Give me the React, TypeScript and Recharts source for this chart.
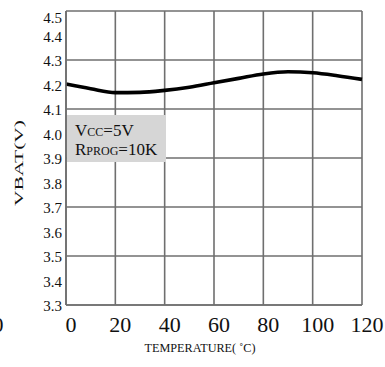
import React from "react";
import { LineChart, Line, XAxis, YAxis, CartesianGrid, ReferenceLine } from "recharts";

const temperatures = [0, 10, 20, 30, 40, 50, 60, 70, 80, 90, 100, 110, 120];
const vbatValues = [4.202, 4.183, 4.167, 4.168, 4.176, 4.189, 4.207, 4.225, 4.243, 4.252, 4.248, 4.236, 4.221];
const xTicks = [0, 20, 40, 60, 80, 100, 120];
const yTicks = [3.3, 3.4, 3.5, 3.6, 3.7, 3.8, 3.9, 4.0, 4.1, 4.2, 4.3, 4.4, 4.5];
const yGridValues = [3.3, 3.5, 3.7, 3.9, 4.1, 4.3, 4.5];

const data = temperatures.map((t, i) => ({ t, v: vbatValues[i] }));

const GRID = "#6f6f6f";
const FONT = "'Liberation Serif', 'Times New Roman', serif";

const XTick = (props: any) => {
  const { x, y, payload } = props;
  return (
    <text x={x + 5} y={y + 27} textAnchor="middle" fontFamily={FONT} fontSize={22} fill="#111">
      {payload.value}
    </text>
  );
};

const YTick = (props: any) => {
  const { x, y, payload } = props;
  const dy = payload.value >= 4.5 ? 12 : 6.3;
  return (
    <text x={x} y={y + dy} textAnchor="end" fontFamily={FONT} fontSize={15} fill="#111">
      {Number(payload.value).toFixed(1)}
    </text>
  );
};

export default function App() {
  return (
    <div style={{ position: "absolute", left: 0, top: 0, width: 385, height: 367, background: "#fff" }}>
      <LineChart width={385} height={367} data={data} margin={{ top: 11, right: 23, bottom: 22, left: 0 }}>
        <CartesianGrid horizontal={false} stroke={GRID} strokeWidth={1.6} />
        {yGridValues.map((g) => (
          <ReferenceLine key={g} y={g} stroke={GRID} strokeWidth={1.6} ifOverflow="extendDomain" />
        ))}
        <XAxis
          dataKey="t"
          type="number"
          domain={[0, 120]}
          ticks={xTicks}
          axisLine={{ stroke: GRID, strokeWidth: 1.6 }}
          tickLine={false}
          tickSize={0}
          tickMargin={0}
          height={40}
          tick={<XTick />}
          interval={0}
        />
        <YAxis
          type="number"
          domain={[3.3, 4.5]}
          ticks={yTicks}
          width={66}
          axisLine={{ stroke: GRID, strokeWidth: 1.6 }}
          tickLine={false}
          tickSize={0}
          tickMargin={4}
          tick={<YTick />}
          interval={0}
        />
        <Line
          type="monotone"
          dataKey="v"
          stroke="#000"
          strokeWidth={3.6}
          dot={false}
          activeDot={false}
          isAnimationActive={false}
        />
      </LineChart>
      <svg width={385} height={367} style={{ position: "absolute", left: 0, top: 0, pointerEvents: "none" }}>
        <text x={-2} y={332} textAnchor="middle" fontFamily={FONT} fontSize={22} fill="#111">0</text>
        <text
          x={200}
          y={352}
          textAnchor="middle"
          fontFamily={FONT}
          fontSize={13}
          fill="#111"
          textLength={111}
          lengthAdjust="spacingAndGlyphs"
        >
          TEMPERATURE( ˚C)
        </text>
        <text
          x={23}
          y={163}
          transform="rotate(-90 23 163)"
          textAnchor="middle"
          fontFamily={FONT}
          fontSize={13}
          fill="#111"
          textLength={86}
          lengthAdjust="spacingAndGlyphs"
        >
          VBAT(V)
        </text>
        <rect x={67} y={115} width={99} height={47} fill="#d6d6d6" />
        <text x={75} y={136} fontFamily={FONT} fontSize={17} fill="#111">
          V<tspan fontSize={12}>CC</tspan>=5V
        </text>
        <text x={75} y={155} fontFamily={FONT} fontSize={17} fill="#111">
          R<tspan fontSize={12}>PROG</tspan>=10K
        </text>
      </svg>
    </div>
  );
}
